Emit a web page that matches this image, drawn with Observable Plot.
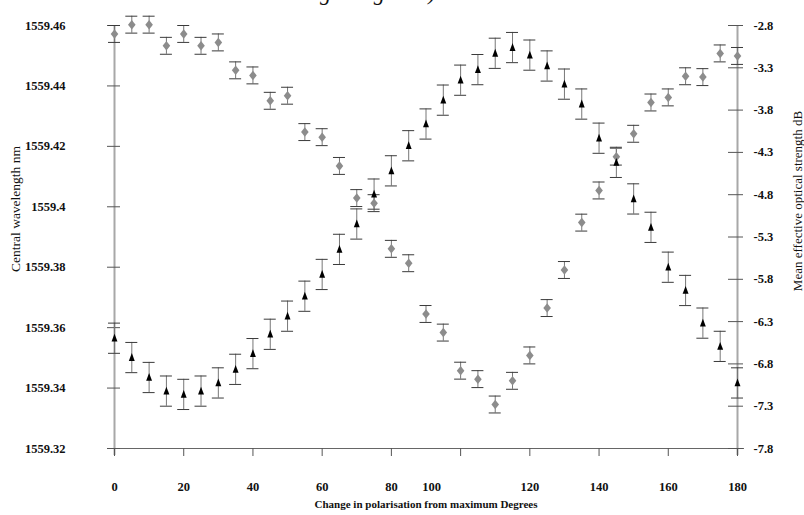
<!DOCTYPE html>
<html><head><meta charset="utf-8">
<script src="https://cdn.jsdelivr.net/npm/d3@7"></script>
<script src="https://cdn.jsdelivr.net/npm/@observablehq/plot@0.6"></script>
<style>
body{margin:0;background:#fff;}
#wrap{position:relative;width:804px;height:515px;overflow:hidden;background:#fff;}
#cap{position:absolute;left:320px;top:-20px;font:italic 22px "Liberation Serif",serif;color:#111;white-space:nowrap;}
#chart{position:absolute;left:0;top:0;}
</style></head><body>
<div id="wrap"><div id="chart"></div><div id="cap">grating 2nm).</div></div>
<script>
// polarisation change (degrees)
const angles = [0,5,10,15,20,25,30,35,40,45,50,55,60,65,70,75,80,85,90,95,100,105,110,115,120,125,130,135,140,145,150,155,160,165,170,175,180];
// central wavelength (nm) – black triangles, left axis
const wavelength = [1559.3565,1559.3501,1559.3435,1559.3390,1559.3379,1559.3390,1559.3417,1559.3462,1559.3514,1559.3578,1559.3638,1559.3704,1559.3776,1559.3859,1559.3943,1559.4042,1559.4119,1559.4202,1559.4274,1559.4353,1559.4419,1559.4454,1559.4508,1559.4527,1559.4502,1559.4466,1559.4406,1559.4340,1559.4227,1559.4147,1559.4026,1559.3932,1559.3800,1559.3723,1559.3615,1559.3538,1559.3417];
// mean effective optical strength (dB) – grey diamonds, right axis
const strength = [-2.90,-2.79,-2.79,-3.04,-2.90,-3.04,-3.00,-3.33,-3.39,-3.69,-3.63,-4.06,-4.12,-4.46,-4.84,-4.90,-5.44,-5.61,-6.21,-6.43,-6.88,-6.98,-7.28,-7.00,-6.70,-6.14,-5.69,-5.13,-4.75,-4.35,-4.08,-3.71,-3.65,-3.40,-3.41,-3.13,-3.16];
const wavelengthErr = 0.005;
const strengthErr = 0.1;
const nmTicks = [1559.32,1559.34,1559.36,1559.38,1559.40,1559.42,1559.44,1559.46];
const dbTicks = [-2.8,-3.3,-3.8,-4.3,-4.8,-5.3,-5.8,-6.3,-6.8,-7.3,-7.8];
const xTicks = [0,20,40,60,80,100,120,140,160,180];

// map the right (dB) axis onto the left (nm) scale
const nmDomain = [1559.32, 1559.46], dbDomain = [-7.8, -2.8];
const toNm = db => nmDomain[0] + (db - dbDomain[0]) * (nmDomain[1]-nmDomain[0]) / (dbDomain[1]-dbDomain[0]);
const fromNm = nm => dbDomain[0] + (nm - nmDomain[0]) * (dbDomain[1]-dbDomain[0]) / (nmDomain[1]-nmDomain[0]);

const rows = angles.map((a, i) => ({angle: a, nm: wavelength[i], db: strength[i]}));

const diamondSym = {draw(ctx, size){ const r = Math.sqrt(size/Math.PI);
  ctx.moveTo(0,-r*1.25); ctx.lineTo(r,0); ctx.lineTo(0,r*1.25); ctx.lineTo(-r,0); ctx.closePath(); }};
const triSym = {draw(ctx, size){ const r = Math.sqrt(size/Math.PI);
  ctx.moveTo(0,-r*1.2); ctx.lineTo(r*0.8,r*0.9); ctx.lineTo(-r*0.8,r*0.9); ctx.closePath(); }};

const capStroke = "#3a3a3a", stemStroke = "#777";

const chart = Plot.plot({
  width: 804, height: 515,
  marginLeft: 114, marginRight: 67, marginTop: 25, marginBottom: 67,
  x: {domain: [0, 180], axis: null},
  y: {domain: nmDomain, axis: null},
  style: {fontFamily: "'Liberation Serif', serif", fontSize: "12.5px", color: "#111", background: "white"},
  marks: [
    // axis lines
    Plot.ruleX([0, 180], {stroke: "#a8a8a8", strokeWidth: 2, insetBottom: -7}),
    Plot.ruleY([nmDomain[0]], {stroke: "#666", insetLeft: -7, insetRight: -7}),
    // left axis
    Plot.axisY(nmTicks, {anchor: "left", tickSize: 13, dx: 6, tickPadding: 42, label: null,
      tickFormat: d => String(+d.toFixed(2)), fontWeight: "bold", stroke: "#555", fill: "#111"}),
    // right axis
    Plot.axisY(dbTicks.map(toNm), {anchor: "right", tickSize: 15, dx: -10, tickPadding: 11, label: null,
      tickFormat: d => fromNm(d).toFixed(1), fontWeight: "bold", stroke: "#555", fill: "#111"}),
    // bottom axis
    Plot.axisX(xTicks, {anchor: "bottom", tickSize: 8, tickPadding: 26, label: null,
      tickFormat: d => d === 100 ? "" : String(d), fontWeight: "bold", stroke: "#555", fill: "#111"}),
    Plot.axisX([100], {anchor: "bottom", tickSize: 0, tickPadding: 34, dx: -29, label: null,
      tickFormat: d => String(d), fontWeight: "bold", fill: "#111"}),
    // titles
    Plot.text(["Central wavelength nm"], {text: d => d, frameAnchor: "left", textAnchor: "middle", dx: -99, dy: -28, rotate: -90, fontSize: 13.5}),
    Plot.text(["Mean effective optical strength dB"], {text: d => d, frameAnchor: "right", textAnchor: "middle", dx: 60, dy: -36, rotate: -90, fontSize: 13}),
    Plot.text(["Change in polarisation from maximum Degrees"], {text: d => d, frameAnchor: "bottom", dy: 59, fontWeight: "bold", fontSize: 11}),
    // diamond error bars (dB)
    Plot.ruleX(rows, {x: "angle", y1: d => toNm(d.db - strengthErr), y2: d => toNm(d.db + strengthErr), stroke: stemStroke}),
    Plot.ruleY(rows, {y: d => toNm(d.db + strengthErr), x1: "angle", x2: "angle", insetLeft: -6, insetRight: -6, stroke: capStroke}),
    Plot.ruleY(rows, {y: d => toNm(d.db - strengthErr), x1: "angle", x2: "angle", insetLeft: -6, insetRight: -6, stroke: capStroke}),
    // triangle error bars (nm)
    Plot.ruleX(rows, {x: "angle", y1: d => d.nm - wavelengthErr, y2: d => d.nm + wavelengthErr, stroke: stemStroke}),
    Plot.ruleY(rows, {y: d => d.nm + wavelengthErr, x1: "angle", x2: "angle", insetLeft: -6, insetRight: -6, stroke: capStroke}),
    Plot.ruleY(rows, {y: d => d.nm - wavelengthErr, x1: "angle", x2: "angle", insetLeft: -6, insetRight: -6, stroke: capStroke}),
    // markers
    Plot.dot(rows, {x: "angle", y: d => toNm(d.db), symbol: diamondSym, r: 3.8, fill: "#8c8c8c", stroke: "none"}),
    Plot.dot(rows, {x: "angle", y: "nm", symbol: triSym, r: 3.7, fill: "#000", stroke: "none"})
  ]
});
document.getElementById("chart").appendChild(chart);
</script>
</body></html>
